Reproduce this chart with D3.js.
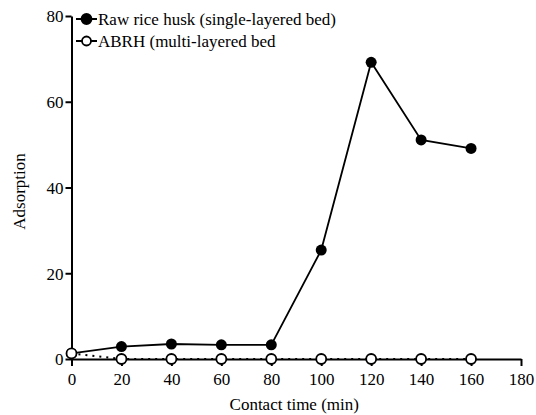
<!DOCTYPE html>
<html>
<head>
<meta charset="utf-8">
<script src="https://cdn.jsdelivr.net/npm/d3@7"></script>
<style>
  body { margin: 0; background: #fff; }
  svg, svg text { font-family: 'Liberation Serif', 'Times New Roman', Tinos, serif; }
</style>
</head>
<body>
<svg class="chart" font-family="Liberation Serif"></svg>
<script>
// data
var times = [0, 20, 40, 60, 80, 100, 120, 140, 160]
var rawHusk = [1.3, 2.9, 3.5, 3.3, 3.3, 25.4, 69.2, 51.1, 49.1]
var abrh = [1.3, 0, 0, 0, 0, 0, 0, 0, 0]
var xTicks = [0, 20, 40, 60, 80, 100, 120, 140, 160, 180]
var yTicks = [0, 20, 40, 60, 80]
var seriesNames = ["Raw rice husk (single-layered bed)", "ABRH (multi-layered bed"]

var FONT = "'Liberation Serif', 'Times New Roman', Tinos, serif"

var W = 536, H = 415
var margin = {top: 16, right: 15, bottom: 56, left: 71.5},
    width  = W - margin.left - margin.right,
    height = H - margin.top - margin.bottom

var chart = d3.select(".chart").attr("width", W).attr("height", H)
var g = chart.append("g").attr("transform", "translate(" + margin.left + "," + margin.top + ")")

var x = d3.scaleLinear().domain([0, 180]).range([0, width])
var y = d3.scaleLinear().domain([0, 80]).range([height, 0])

var xAxis = g.append("g")
  .attr("transform", "translate(0," + height + ")")
  .call(d3.axisBottom(x).tickValues(xTicks).tickSize(7).tickSizeOuter(0).tickPadding(4))
var yAxis = g.append("g")
  .call(d3.axisLeft(y).tickValues(yTicks).tickSize(6).tickSizeOuter(0).tickPadding(2))

;[xAxis, yAxis].forEach(function(a) {
  a.attr("font-family", null).attr("font-size", null)
  a.selectAll("path, line").attr("stroke", "#000").attr("stroke-width", 2)
  a.selectAll("text").attr("fill", "#000")
})
xAxis.selectAll("text").attr("dy", "0.9em")
yAxis.selectAll("text").attr("dy", "0.35em")

chart.append("text")
  .attr("x", margin.left + width / 2 - 2)
  .attr("y", 410)
  .attr("text-anchor", "middle")
  .text("Contact time (min)")

chart.append("text")
  .attr("transform", "translate(25," + (margin.top + height / 2 + 4) + ") rotate(-90)")
  .attr("text-anchor", "middle")
  .text("Adsorption")

var line = d3.line().x(function(d) { return x(d[0]) }).y(function(d) { return y(d[1]) })

var rawPts = times.map(function(t, i) { return [t, rawHusk[i]] })
var abrhPts = times.map(function(t, i) { return [t, abrh[i]] })

g.append("path").datum(abrhPts)
  .attr("d", line).attr("fill", "none").attr("stroke", "#000")
  .attr("stroke-width", 2).attr("stroke-dasharray", "2,5")
g.append("path").datum(rawPts)
  .attr("d", line).attr("fill", "none").attr("stroke", "#000").attr("stroke-width", 1.8)

g.selectAll(".raw").data(rawPts).enter().append("circle")
  .attr("class", "raw")
  .attr("cx", function(d) { return x(d[0]) })
  .attr("cy", function(d) { return y(d[1]) })
  .attr("r", 5.5).attr("fill", "#000")

g.selectAll(".abrh").data(abrhPts).enter().append("circle")
  .attr("class", "abrh")
  .attr("cx", function(d) { return x(d[0]) })
  .attr("cy", function(d) { return y(d[1]) })
  .attr("r", 5).attr("fill", "#fff").attr("stroke", "#000").attr("stroke-width", 1.8)

// legend
var leg = chart.append("g").attr("transform", "translate(76,19)")
seriesNames.forEach(function(name, i) {
  var row = leg.append("g").attr("transform", "translate(0," + (i * 22) + ")")
  row.append("line").attr("x1", 0).attr("x2", 21).attr("y1", 0).attr("y2", 0)
    .attr("stroke", "#000").attr("stroke-width", 2)
  row.append("circle").attr("cx", 10.5).attr("cy", 0).attr("r", i == 0 ? 5 : 4.5)
    .attr("fill", i == 0 ? "#000" : "#fff").attr("stroke", "#000").attr("stroke-width", 1.8)
  row.append("text").attr("x", 22).attr("y", 0).attr("dy", "0.35em").text(name)
})

chart.selectAll("text")
  .attr("fill", "#000")
  .style("font-family", FONT)
  .style("font-size", "17px")
</script>
</body>
</html>
